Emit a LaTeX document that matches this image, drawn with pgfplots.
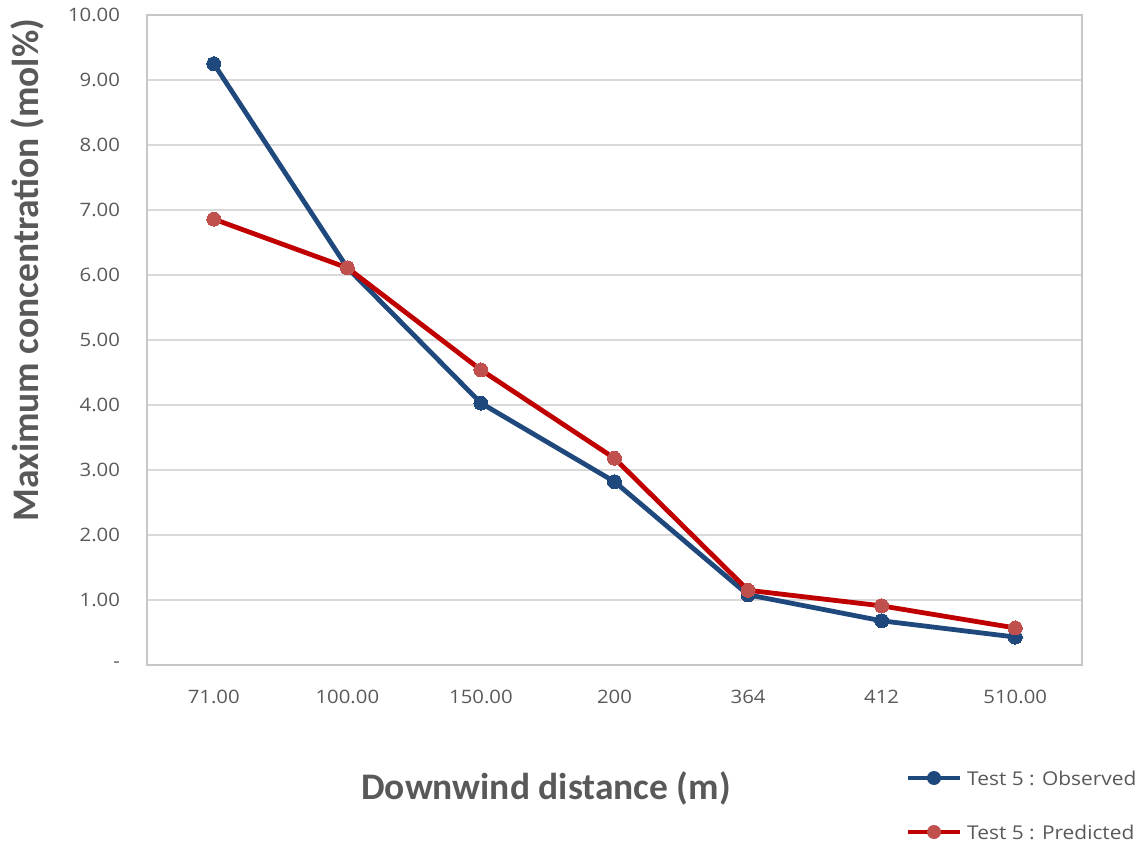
\documentclass[border=0pt]{standalone}
\usepackage{pgfplots}
\pgfplotsset{compat=1.18}
\usepackage{fontspec}
\setmainfont{Carlito}
\newfontfamily\tickfont{Open Sans}
\definecolor{obs}{RGB}{31,73,125}
\definecolor{predl}{RGB}{192,0,0}
\definecolor{predm}{RGB}{192,80,77}
\definecolor{txt}{RGB}{89,89,89}
\definecolor{gridc}{RGB}{217,217,217}
\begin{document}
\begin{tikzpicture}[x=1pt,y=1pt]
\path[use as bounding box] (-147,-182) rectangle (997,665);
\begin{axis}[
  at={(0,0)}, anchor=south west,
  scale only axis, width=935pt, height=650pt,
  xmin=-0.5, xmax=6.5, ymin=0, ymax=10,
  xtick={0,1,2,3,4,5,6},
  xticklabels={71.00,100.00,150.00,200,364,412,510.00},
  ytick={0,1,2,3,4,5,6,7,8,9,10},
  yticklabels={-,1.00,2.00,3.00,4.00,5.00,6.00,7.00,8.00,9.00,10.00},
  tick style={draw=none},
  axis line style={draw=gridc!80!gray, line width=1.5pt},
  ymajorgrids, grid style={gridc, line width=1.5pt},
  ticklabel style={font=\tickfont\fontsize{18.5}{21}\selectfont, text=txt, xscale=1.1},
  yticklabel style={xshift=-21pt},
  xticklabel style={yshift=-22pt},
  clip=false,
]
\addplot[obs, line width=4.8pt, mark=*, mark size=7pt, mark options={fill=obs, draw=obs, line width=0pt}]
  coordinates {(0,9.25) (1,6.11) (2,4.03) (3,2.82) (4,1.08) (5,0.68) (6,0.43)};
\addplot[predl, line width=4.8pt, mark=*, mark size=7pt, mark options={fill=predm, draw=predm, line width=0pt}]
  coordinates {(0,6.86) (1,6.11) (2,4.54) (3,3.18) (4,1.15) (5,0.91) (6,0.57)};
\end{axis}
\node[rotate=90, text=txt, font=\fontsize{37.5}{42}\selectfont\bfseries] at (-120,395) {Maximum concentration (mol\%)};
\node[text=txt, font=\fontsize{37.5}{42}\selectfont\bfseries] at (399,-123) {Downwind distance (m)};
\draw[obs, line width=4.8pt] (761,-113) -- (813,-113);
\fill[obs] (787,-113) circle (7pt);
\node[anchor=west, text=txt, font=\tickfont\fontsize{19}{22}\selectfont, inner sep=0pt, xscale=1.1] at (820,-113) {Test 5 : Observed};
\draw[predl, line width=4.8pt] (761,-167) -- (813,-167);
\fill[predm] (787,-167) circle (7pt);
\node[anchor=west, text=txt, font=\tickfont\fontsize{19}{22}\selectfont, inner sep=0pt, xscale=1.1] at (820,-167) {Test 5 : Predicted};
\end{tikzpicture}
\end{document}
